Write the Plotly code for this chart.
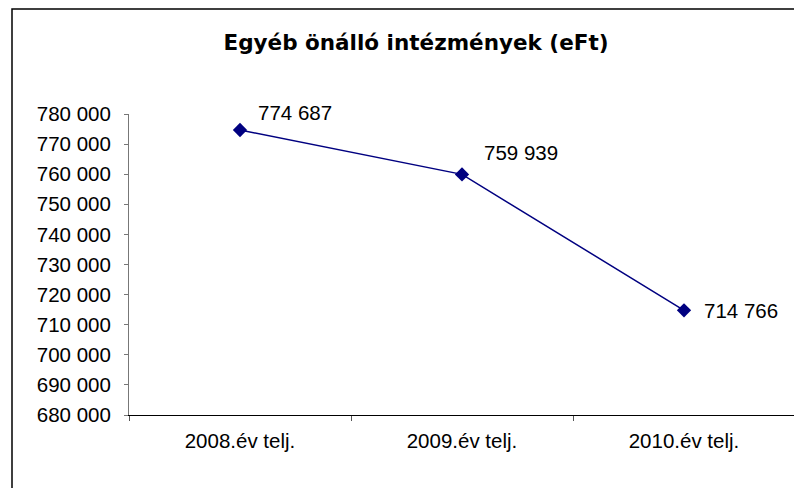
import plotly.graph_objects as go

categories = ["2008.év telj.", "2009.év telj.", "2010.év telj."]
values = [774687, 759939, 714766]
value_labels = ["774 687", "759 939", "714 766"]
tick_vals = list(range(680000, 780001, 10000))
tick_text = [f"{v:,}".replace(",", " ") for v in tick_vals]
title_text = "Egyéb önálló intézmények (eFt)"

FONT = "Liberation Sans, Arial, sans-serif"
TITLE_FONT = "DejaVu Sans, Liberation Sans, sans-serif"

# page is rendered with an 8px body margin; figure occupies page (8..802, 8..488)
OFF = 8
W, H = 802 - OFF, 488 - OFF
L, R, T, B = 129 - OFF, 795 - OFF, 114 - OFF, 415 - OFF
pw, ph = R - L, B - T

def px(x):
    return (x - L) / pw

def py(y):
    return (B - y) / ph

fig = go.Figure()
fig.add_trace(go.Scatter(
    x=categories, y=values, mode="lines+markers",
    line=dict(color="#000080", width=1.5),
    marker=dict(symbol="diamond", size=11, color="#000080"),
    hoverinfo="skip", showlegend=False,
))

label_offsets = [(16, 17), (20, 22), (18, 0)]
for cat, val, lab, (dx, dy) in zip(categories, values, value_labels, label_offsets):
    fig.add_annotation(x=cat, y=val, text=lab, showarrow=False,
                       xanchor="left", yanchor="middle", xshift=dx, yshift=dy,
                       font=dict(family=FONT, size=20.5, color="black"))

fig.add_shape(type="rect", xref="paper", yref="paper",
              x0=px(12 - OFF), x1=px(W + 10), y0=py(9 - OFF), y1=py(H + 10),
              line=dict(color="black", width=1.5), fillcolor="rgba(0,0,0,0)")

fig.update_layout(
    width=W, height=H,
    margin=dict(l=L, r=W - R, t=T, b=H - B),
    paper_bgcolor="white", plot_bgcolor="white",
    font=dict(family=FONT, size=20, color="black"),
    title=dict(text=f"<b>{title_text}</b>", xref="container",
               x=(416 - OFF) / W, xanchor="center",
               y=1 - (42 - OFF) / H, yanchor="middle",
               font=dict(family=TITLE_FONT, size=21.5, color="black")),
    xaxis=dict(type="category", showgrid=False, showline=True, linecolor="black",
               linewidth=1, ticks="outside", tickson="boundaries", ticklen=5,
               tickcolor="#555", tickfont=dict(size=20.5), range=[-0.5, 2.5],
               ticklabelstandoff=7, zeroline=False),
    yaxis=dict(range=[680000, 780000], tickvals=tick_vals, ticktext=tick_text,
               showgrid=False, showline=True, linecolor="#777", linewidth=1,
               ticks="outside", ticklen=4, tickcolor="#777",
               ticklabelstandoff=9, tickfont=dict(size=20.5), zeroline=False),
)

fig.write_html("out.html")
